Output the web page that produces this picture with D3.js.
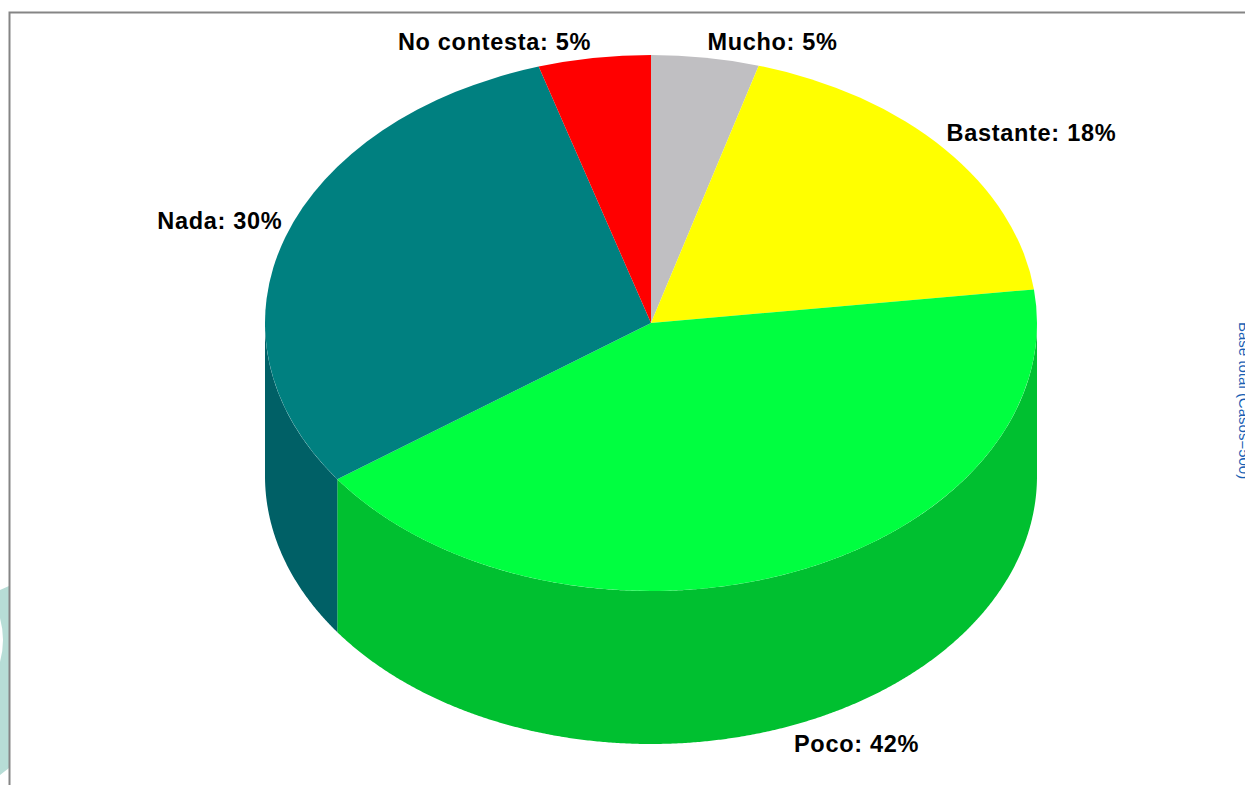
<!DOCTYPE html>
<html>
<head>
<meta charset="utf-8">
<script src="https://cdn.jsdelivr.net/npm/d3@7"></script>
<style>
  html, body { margin: 0; padding: 0; background: #fff; overflow: hidden; }
  text { font-family: "Liberation Sans", Arial, sans-serif; }
</style>
</head>
<body>
<svg id="graph" width="1245" height="785"></svg>
<script>
// Datos
const categorias = ["Mucho", "Bastante", "Poco", "Nada", "No contesta"];
const valores = [4.5, 18.5, 42.1, 30.2, 4.7];
const etiquetas = ["5%", "18%", "42%", "30%", "5%"];
const coloresArriba = ["#c0bfc2", "#ffff00", "#00ff40", "#008080", "#ff0000"];
const coloresLado = ["#908f92", "#c0c000", "#00c030", "#006066", "#c00000"];
const textoBase = "Base total (Casos=500)";

// Parametros de la tarta
const cx = 651, cy = 323;
const rx = 386, ry = 268;
const alto = 153;

const svg = d3.select("#graph");

// Mancha de fondo a la izquierda, cortada por el marco
svg.append("path")
  .attr("d", "M0,590 L9,586 L9,768 L0,775 L0,662 Q6,640 0,618 Z")
  .attr("fill", "#b7ddd6");

// Marco gris
svg.append("path")
  .attr("d", "M9.5,785 L9.5,12.5 L1245,12.5")
  .attr("fill", "none")
  .attr("stroke", "#858585")
  .attr("stroke-width", 2);

const pie = d3.pie().sort(null).value(d => d.valor)
  .startAngle(0).endAngle(2 * Math.PI);

const datos = pie(categorias.map((c, i) => ({
  categoria: c, valor: valores[i], etiqueta: etiquetas[i], i: i
})));

// Punto de la elipse para un angulo medido desde arriba, en sentido horario
const puntoX = a => cx + rx * Math.sin(a);
const puntoY = (a, h) => cy - ry * Math.cos(a) + h;

// Paredes: solo se ve la mitad delantera (de 90 a 270 grados)
const linea = d3.line().x(d => d[0]).y(d => d[1]);
datos.forEach(d => {
  const a0 = Math.max(d.startAngle, Math.PI / 2);
  const a1 = Math.min(d.endAngle, 3 * Math.PI / 2);
  if (a1 <= a0) return;
  const angulos = d3.range(a0, a1, 0.005).concat([a1]);
  const arriba = angulos.map(a => [puntoX(a), puntoY(a, 0)]);
  const abajo = angulos.slice().reverse().map(a => [puntoX(a), puntoY(a, alto)]);
  svg.append("path")
    .attr("d", linea(arriba.concat(abajo)) + "Z")
    .attr("fill", coloresLado[d.data.i]);
});

// Cara superior
const arco = d3.arc().innerRadius(0).outerRadius(rx);
svg.append("g")
  .attr("transform", `translate(${cx},${cy}) scale(1,${ry / rx})`)
  .selectAll("path")
  .data(datos)
  .enter().append("path")
  .attr("d", arco)
  .attr("fill", d => coloresArriba[d.data.i]);

// Etiquetas pegadas al borde de cada porcion
svg.selectAll("text.etiqueta")
  .data(datos)
  .enter().append("text")
  .attr("class", "etiqueta")
  .attr("x", d => {
    const m = (d.startAngle + d.endAngle) / 2;
    return puntoX(m) + (m < Math.PI ? 2 : -3);
  })
  .attr("y", d => {
    const m = (d.startAngle + d.endAngle) / 2;
    const abajo = Math.cos(m) < 0;
    return abajo ? puntoY(m, alto) + 27 : puntoY(m, 0) - 8;
  })
  .attr("text-anchor", d => (d.startAngle + d.endAngle) / 2 < Math.PI ? "start" : "end")
  .attr("font-size", 23.5)
  .attr("font-weight", "bold")
  .attr("letter-spacing", 0.7)
  .attr("fill", "#000")
  .text(d => `${d.data.categoria}: ${d.data.etiqueta}`);

// Texto girado en el borde derecho, cortado por la ventana
svg.append("text")
  .attr("transform", "translate(1239,322) rotate(90)")
  .attr("font-size", 15)
  .attr("fill", "#1a5fb4")
  .text(textoBase);
</script>
</body>
</html>
